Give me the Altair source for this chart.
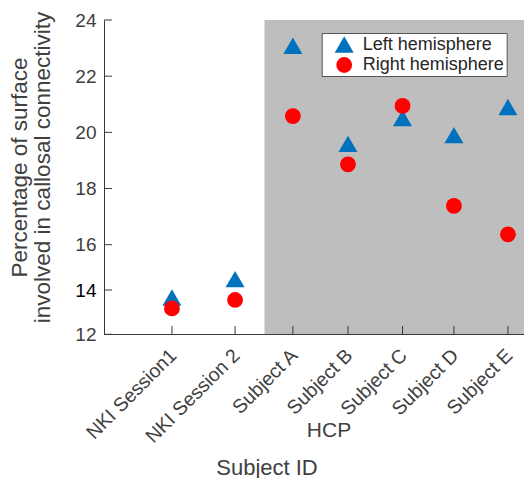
import altair as alt
import pandas as pd

# ---------------- data ----------------
subjects = ["NKI Session1", "NKI Session 2", "Subject A", "Subject B",
            "Subject C", "Subject D", "Subject E"]
x_pos = [1.27, 2.45, 3.53, 4.56, 5.58, 6.54, 7.55]
left_hemi = [13.66, 14.48, 23.08, 19.59, 20.51, 19.90, 20.90]
right_hemi = [13.17, 13.55, 20.58, 18.86, 20.94, 17.38, 16.37]
series = ["Left hemisphere", "Right hemisphere"]
y_ticks = [12, 14, 16, 18, 20, 22, 24]
y_breaks = [12, 14, 16, 24]
hcp_start = 3.0
x_max = 7.85
group_label = "HCP"
x_title = "Subject ID"
y_title = ["Percentage of surface", "involved in callosal connectivity"]

FONT = "Liberation Sans"
TXT = "#404040"
AX = "#3a3a3a"

rows = []
for s, xs, vals in [(series[0], x_pos, left_hemi), (series[1], x_pos, right_hemi)]:
    for name, xv, v in zip(subjects, xs, vals):
        rows.append({"subject": name, "x": xv, "value": v, "series": s})
df = pd.DataFrame(rows)

rect_df = pd.DataFrame({"x0": [hcp_start], "x1": [x_max],
                        "y0": [y_ticks[0]], "y1": [y_ticks[-1]]})
ytick_df = pd.DataFrame({"v": y_ticks})
xtick_df = pd.DataFrame({"p": x_pos})
hcp_df = pd.DataFrame({"label": [group_label]})

W, H = 420, 314
xscale = alt.Scale(domain=[0, x_max], nice=False, zero=False)
yscale = alt.Scale(domain=y_breaks, range=[314.3, 270, 224.7, 0], nice=False, zero=False)

pos_list = "[" + ",".join(str(v) for v in x_pos) + "]"
name_list = "[" + ",".join("'" + s + "'" for s in subjects) + "]"
label_expr = f"{name_list}[indexof({pos_list}, datum.value)]"

xaxis = alt.Axis(values=x_pos, labelExpr=label_expr, labelAngle=315,
                 labelAlign="right", labelBaseline="middle", labelPadding=18,
                 labelOffset=1,
                 labelFontSize=19.5, labelFont=FONT, labelColor=TXT,
                 ticks=False, grid=False, domainColor=AX, domainWidth=1,
                 title=x_title, titleFont=FONT, titleFontSize=22,
                 titleFontWeight="normal", titleColor=TXT,
                 titleX=162.5, titleY=140, titleAlign="center",
                 titleBaseline="alphabetic", zindex=1, labelOverlap=False)

yaxis = alt.Axis(values=y_ticks, ticks=False, grid=False, labelPadding=8,
                 labelFontSize=19, labelFont=FONT,
                 labelColor={"condition": {"test": "datum.value === 14", "value": "#000000"},
                             "value": TXT},
                 domainColor=AX, domainWidth=1,
                 title=y_title, titleFont=FONT, titleFontSize=22.5,
                 titleLineHeight=23, titleFontWeight="normal", titleColor=TXT,
                 titleAngle=270, titleAlign="center", titleBaseline="alphabetic",
                 titleX=-78, titleY=147, zindex=1, labelOverlap=False)

rect = alt.Chart(rect_df).mark_rect(color="#BEBEBE").encode(
    x=alt.X("x0:Q", scale=xscale, axis=xaxis),
    x2=alt.X2("x1"),
    y=alt.Y("y0:Q", scale=yscale, axis=yaxis),
    y2=alt.Y2("y1"),
)

yticks = alt.Chart(ytick_df).mark_rule(color=AX, strokeWidth=1).encode(
    y=alt.Y("v:Q", scale=yscale, axis=yaxis),
    x=alt.value(0), x2=alt.value(8),
)

xticks = alt.Chart(xtick_df).mark_rule(color=AX, strokeWidth=1).encode(
    x=alt.X("p:Q", scale=xscale, axis=xaxis),
    y=alt.value(314), y2=alt.value(306),
)

legend = alt.Legend(title=None, orient="none", legendX=217.7, legendY=13,
                    padding=2, strokeColor="#555555", fillColor="white",
                    labelFontSize=18, labelFont=FONT, labelColor="#262626",
                    symbolOffset=11, labelOffset=9, rowPadding=2,
                    symbolStrokeWidth=0, cornerRadius=0)

points = alt.Chart(df).mark_point(filled=True, opacity=1, strokeWidth=0).encode(
    x=alt.X("x:Q", scale=xscale, axis=xaxis),
    y=alt.Y("value:Q", scale=yscale, axis=yaxis),
    color=alt.Color("series:N", scale=alt.Scale(domain=series, range=["#0072BD", "#FF0000"]),
                    legend=legend),
    shape=alt.Shape("series:N", scale=alt.Scale(domain=series, range=["triangle-up", "circle"]),
                    legend=legend),
    size=alt.Size("series:N", scale=alt.Scale(domain=series, range=[360, 250]),
                  legend=legend),
    order=alt.Order("series:N"),
)

hcp = alt.Chart(hcp_df).mark_text(fontSize=21, font=FONT, color=TXT,
                                  align="center", baseline="alphabetic").encode(
    text="label:N", x=alt.value(225), y=alt.value(417),
)

chart = alt.layer(rect, yticks, xticks, points, hcp).properties(
    width=W, height=H,
    autosize=alt.AutoSizeParams(type="none"),
    padding={"left": 96, "top": 12, "right": 0, "bottom": 144},
    background="white",
).configure_view(stroke=None)

chart.save("out.html", embed_options={"renderer": "svg", "actions": False})
